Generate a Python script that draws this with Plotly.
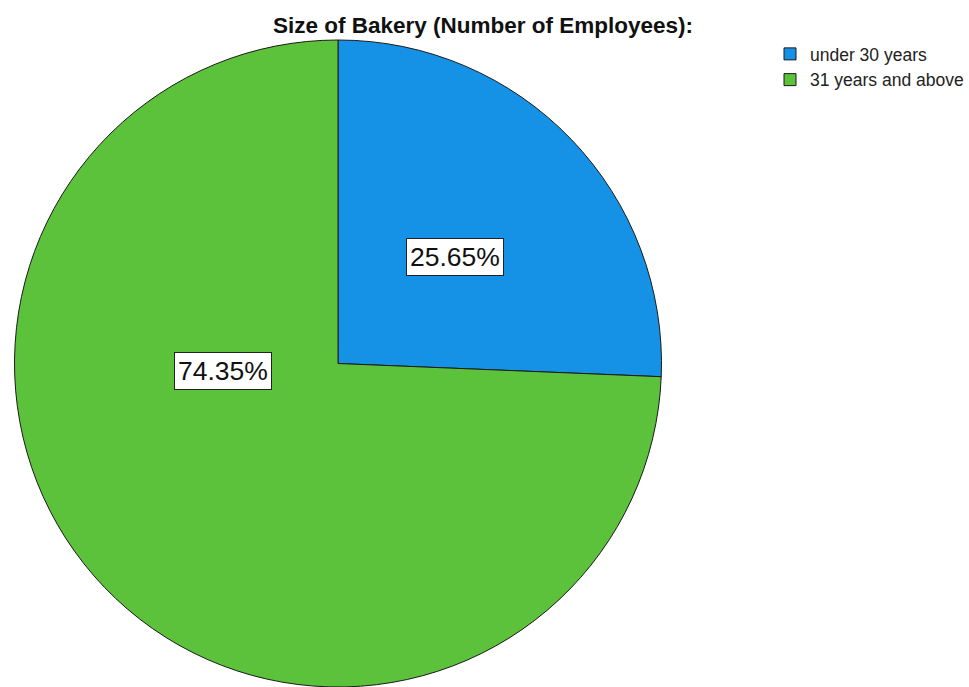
import plotly.graph_objects as go

labels = ["under 30 years", "31 years and above"]
values = [25.65, 74.35]
colors = ["#1592E6", "#5CC23B"]
title_text = "Size of Bakery (Number of Employees):"

W, H = 969, 687

fig = go.Figure()
fig.add_trace(go.Pie(
    labels=labels,
    values=values,
    sort=False,
    direction="clockwise",
    rotation=0,
    textinfo="none",
    hoverinfo="label+percent",
    marker=dict(colors=colors, line=dict(color="#1a1a1a", width=1)),
    domain=dict(x=[12 / W, 664 / W], y=[0, 1 - 40 / H]),
))

# label boxes (SPSS-style)
label_pos = [(455, 257), (223, 371)]
for v, (px, py) in zip(values, label_pos):
    fig.add_annotation(
        x=px / W, y=1 - py / H, xref="paper", yref="paper",
        text=f"{v:.2f}%", showarrow=False,
        font=dict(family="Liberation Sans, Arial", size=26.5, color="#111111"),
        bgcolor="white", bordercolor="#222222", borderwidth=1, borderpad=3,
        xanchor="center", yanchor="middle",
    )

fig.update_layout(
    width=W, height=H,
    margin=dict(l=0, r=0, t=0, b=0),
    paper_bgcolor="white",
    plot_bgcolor="white",
    title=dict(
        text=f"<b>{title_text}</b>",
        x=483 / W, xanchor="center", xref="paper",
        y=1 - 25 / H, yanchor="middle", yref="container",
        font=dict(family="Liberation Sans, Arial", size=22.5, color="#111111"),
    ),
    showlegend=True,
    legend=dict(
        x=770 / W, xanchor="left", y=1 - 36 / H, yanchor="top",
        font=dict(family="Liberation Sans, Arial", size=17.5, color="#222222"),
        bgcolor="rgba(0,0,0,0)", borderwidth=0,
        tracegroupgap=0,
    ),
)

fig.write_html("out.html")
